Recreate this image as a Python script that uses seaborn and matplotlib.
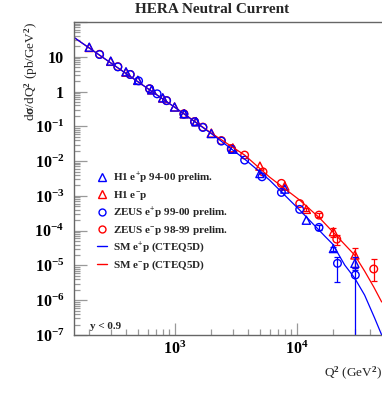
# HERA neutral current cross section dsigma/dQ2
import numpy as np
import seaborn as sns
import matplotlib.pyplot as plt
from matplotlib.lines import Line2D
import matplotlib.ticker as mticker

sns.set_style("ticks")
plt.rcParams['font.family'] = ['Liberation Serif', 'DejaVu Serif']
plt.rcParams['font.weight'] = 'bold'
plt.rcParams['mathtext.fontset'] = 'custom'
plt.rcParams['mathtext.rm'] = 'Liberation Serif:bold'
plt.rcParams['mathtext.bf'] = 'Liberation Serif:bold'
plt.rcParams['mathtext.it'] = 'Liberation Serif:bold'
plt.rcParams['mathtext.default'] = 'rm'

# SM curves (CTEQ5D)
sm_ep_q2 = [149, 1000, 2000, 3750, 6000, 10590, 16970, 19700, 24740, 29840, 36000, 43500, 49700]
sm_ep_xs = [36.6, 0.356, 0.0617, 0.0114, 2.84e-3, 3.91e-4, 7.0e-5, 4.12e-5, 1.03e-5, 4.35e-6, 1.41e-6, 3.08e-7, 1.0e-7]
sm_em_q2 = [149, 1000, 2000, 3750, 6000, 10590, 15450, 21300, 29840, 36000, 42800, 49700]
sm_em_xs = [36.6, 0.356, 0.0638, 0.0149, 3.47e-3, 7.57e-4, 2.30e-4, 7.0e-5, 1.99e-5, 6.9e-6, 2.4e-6, 8.9e-7]

# H1 e+p 94-00 (blue triangles)
h1_ep_q2 = [200, 300, 400, 500, 650, 800, 1000, 1200, 1500, 2000, 3000, 5000, 8000, 12000, 20000, 30000]
h1_ep_xs = [18.9, 7.5, 3.7, 2.1, 1.12, 0.66, 0.36, 0.23, 0.135, 0.062, 0.022, 4.4e-3, 1.57e-3, 2.0e-4, 3.06e-5, 1.15e-5]
h1_ep_lo = [0] * 14 + [4e-6, 4.1e-6]
h1_ep_hi = [0] * 14 + [4e-6, 5.9e-6]

# H1 e-p (red triangles)
h1_em_q2 = [200, 300, 400, 500, 650, 800, 1000, 1200, 1500, 2000, 3000, 5000, 8000, 12000, 20000, 30000]
h1_em_xs = [18.5, 7.4, 3.6, 2.1, 1.12, 0.65, 0.36, 0.23, 0.137, 0.064, 0.024, 7.18e-3, 1.91e-3, 4.1e-4, 9.3e-5, 2.0e-5]
h1_em_lo = [0] * 13 + [4e-5, 2.6e-5, 1.16e-5]
h1_em_hi = [0] * 13 + [4e-5, 2.6e-5, 1.16e-5]

# ZEUS e+p 99-00 (blue circles)
zeus_ep_q2 = [243, 343, 433, 507, 624, 719, 860, 1192, 1458, 1706, 2415, 2917, 3747, 5200, 7500, 10590, 15240, 21590, 30240]
zeus_ep_xs = [11.6, 5.13, 3.10, 2.03, 1.20, 0.86, 0.548, 0.224, 0.135, 0.093, 0.0376, 0.0217, 0.0107, 3.54e-3,
              1.26e-3, 4.09e-4, 1.24e-4, 1.15e-5, 5.3e-6]
zeus_ep_lo = [0] * 16 + [2e-5, 8.2e-6, 5.3e-6 - 1e-10]
zeus_ep_hi = [0] * 16 + [2e-5, 5.9e-6, 3.4e-6]

# ZEUS e-p 98-99 (red circles)
zeus_em_q2 = [243, 343, 433, 624, 860, 1192, 1458, 1706, 2415, 2917, 3747, 5300, 7500, 10590, 15240, 21300, 42800]
zeus_em_xs = [11.8, 5.2, 3.1, 1.2, 0.55, 0.23, 0.137, 0.095, 0.039, 0.023, 0.0149, 4.9e-3, 2.29e-3, 6.0e-4,
              2.8e-4, 5.7e-5, 7.9e-6]
zeus_em_lo = [0] * 14 + [4e-5, 1.8e-5, 4.3e-6]
zeus_em_hi = [0] * 14 + [4e-5, 1.8e-5, 7.4e-6]

BLUE = '#0000ff'
RED = '#ff0000'

fig = plt.figure(figsize=(3.82, 4.03), dpi=100)
ax = fig.add_axes([74 / 382, 68 / 403, 308 / 382, 313 / 403])
ax.set_xscale('log')
ax.set_yscale('log')

# SM curves
sns.lineplot(x=sm_em_q2, y=sm_em_xs, ax=ax, color=RED, lw=0.9, sort=False, estimator=None)
sns.lineplot(x=sm_ep_q2, y=sm_ep_xs, ax=ax, color=BLUE, lw=0.9, sort=False, estimator=None)

# data with errors
series = [
    (zeus_em_q2, zeus_em_xs, zeus_em_lo, zeus_em_hi, RED, 'o', 30),
    (h1_em_q2, h1_em_xs, h1_em_lo, h1_em_hi, RED, '^', 34),
    (zeus_ep_q2, zeus_ep_xs, zeus_ep_lo, zeus_ep_hi, BLUE, 'o', 30),
    (h1_ep_q2, h1_ep_xs, h1_ep_lo, h1_ep_hi, BLUE, '^', 34),
]
for q2, xs, lo, hi, col, mk, s in series:
    q2 = np.array(q2)
    xs = np.array(xs)
    lo = np.array(lo)
    hi = np.array(hi)
    m = (lo > 0) | (hi > 0)
    ax.errorbar(q2[m], xs[m], yerr=[lo[m], hi[m]], fmt='none', ecolor=col, elinewidth=0.9,
                capsize=2, capthick=0.9)
    sns.scatterplot(x=q2, y=xs, ax=ax, marker=mk, s=s, linewidth=1.0)
    pts = ax.collections[-1]
    pts.set_facecolor('none')
    pts.set_edgecolor(col)

ax.set_xlim(150, 50000)
ax.set_ylim(1e-7, 100)

# axis style (ROOT-like)
ax.yaxis.set_major_locator(mticker.LogLocator(base=10, numticks=20))
ax.yaxis.set_minor_locator(mticker.LogLocator(base=10, subs=np.arange(2, 10), numticks=20))
ylabels = {1e-7: r'$10^{-7}$', 1e-6: r'$10^{-6}$', 1e-5: r'$10^{-5}$', 1e-4: r'$10^{-4}$',
           1e-3: r'$10^{-3}$', 1e-2: r'$10^{-2}$', 1e-1: r'$10^{-1}$', 1.0: '1', 10.0: '10'}
ax.yaxis.set_major_formatter(mticker.FuncFormatter(
    lambda v, p: next((t for k, t in ylabels.items() if abs(np.log10(v) - np.log10(k)) < 1e-6), '')))
ax.xaxis.set_major_formatter(mticker.FuncFormatter(
    lambda v, p: r'$10^{%d}$' % round(np.log10(v))))
ax.xaxis.set_minor_formatter(mticker.NullFormatter())

ax.tick_params(which='both', direction='in', colors='#999999', labelcolor='black', width=0.9)
ax.tick_params(which='major', length=9, labelsize=11.5)
ax.tick_params(axis='y', which='major', pad=7)
ax.tick_params(axis='x', which='major', pad=4)
ax.tick_params(which='minor', length=4.5)
for side in ['left', 'bottom', 'top']:
    ax.spines[side].set_color('#666666')
    ax.spines[side].set_linewidth(1.0)
ax.spines['right'].set_visible(False)

ax.set_xlabel(r'Q$^2$ (GeV$^2$)', fontsize=9.5, loc='right')
ax.xaxis.set_label_coords(1.0, -0.095)
ax.set_ylabel(r'd$\sigma$/dQ$^2$ (pb/GeV$^2$)', fontsize=9.5, loc='top')
ax.yaxis.set_label_coords(-0.11, 1.0)

fig.text(0.554, 0.968, 'HERA Neutral Current', ha='center', va='baseline', fontsize=11,
         fontweight='bold')
ax.text(0.052, 0.02, 'y < 0.9', transform=ax.transAxes, fontsize=8, va='baseline')

handles = [
    Line2D([], [], ls='none', marker='^', mfc='none', mec=BLUE, ms=5.5, mew=1),
    Line2D([], [], ls='none', marker='^', mfc='none', mec=RED, ms=5.5, mew=1),
    Line2D([], [], ls='none', marker='o', mfc='none', mec=BLUE, ms=5, mew=1),
    Line2D([], [], ls='none', marker='o', mfc='none', mec=RED, ms=5, mew=1),
    Line2D([], [], color=BLUE, lw=1),
    Line2D([], [], color=RED, lw=1),
]
labels = [r'H1 e$^{+}$p 94-00 prelim.', r'H1 e$^{-}$p', r'ZEUS e$^{+}$p 99-00 prelim.',
          r'ZEUS e$^{-}$p 98-99 prelim.', r'SM e$^{+}$p (CTEQ5D)', r'SM e$^{-}$p (CTEQ5D)']
ax.legend(handles, labels, loc='upper left', bbox_to_anchor=(0.075, 0.525), frameon=False,
          fontsize=8, handlelength=0.9, handletextpad=0.5, labelspacing=0.3,
          borderpad=0, borderaxespad=0)

fig.savefig('out.png', dpi=100)
